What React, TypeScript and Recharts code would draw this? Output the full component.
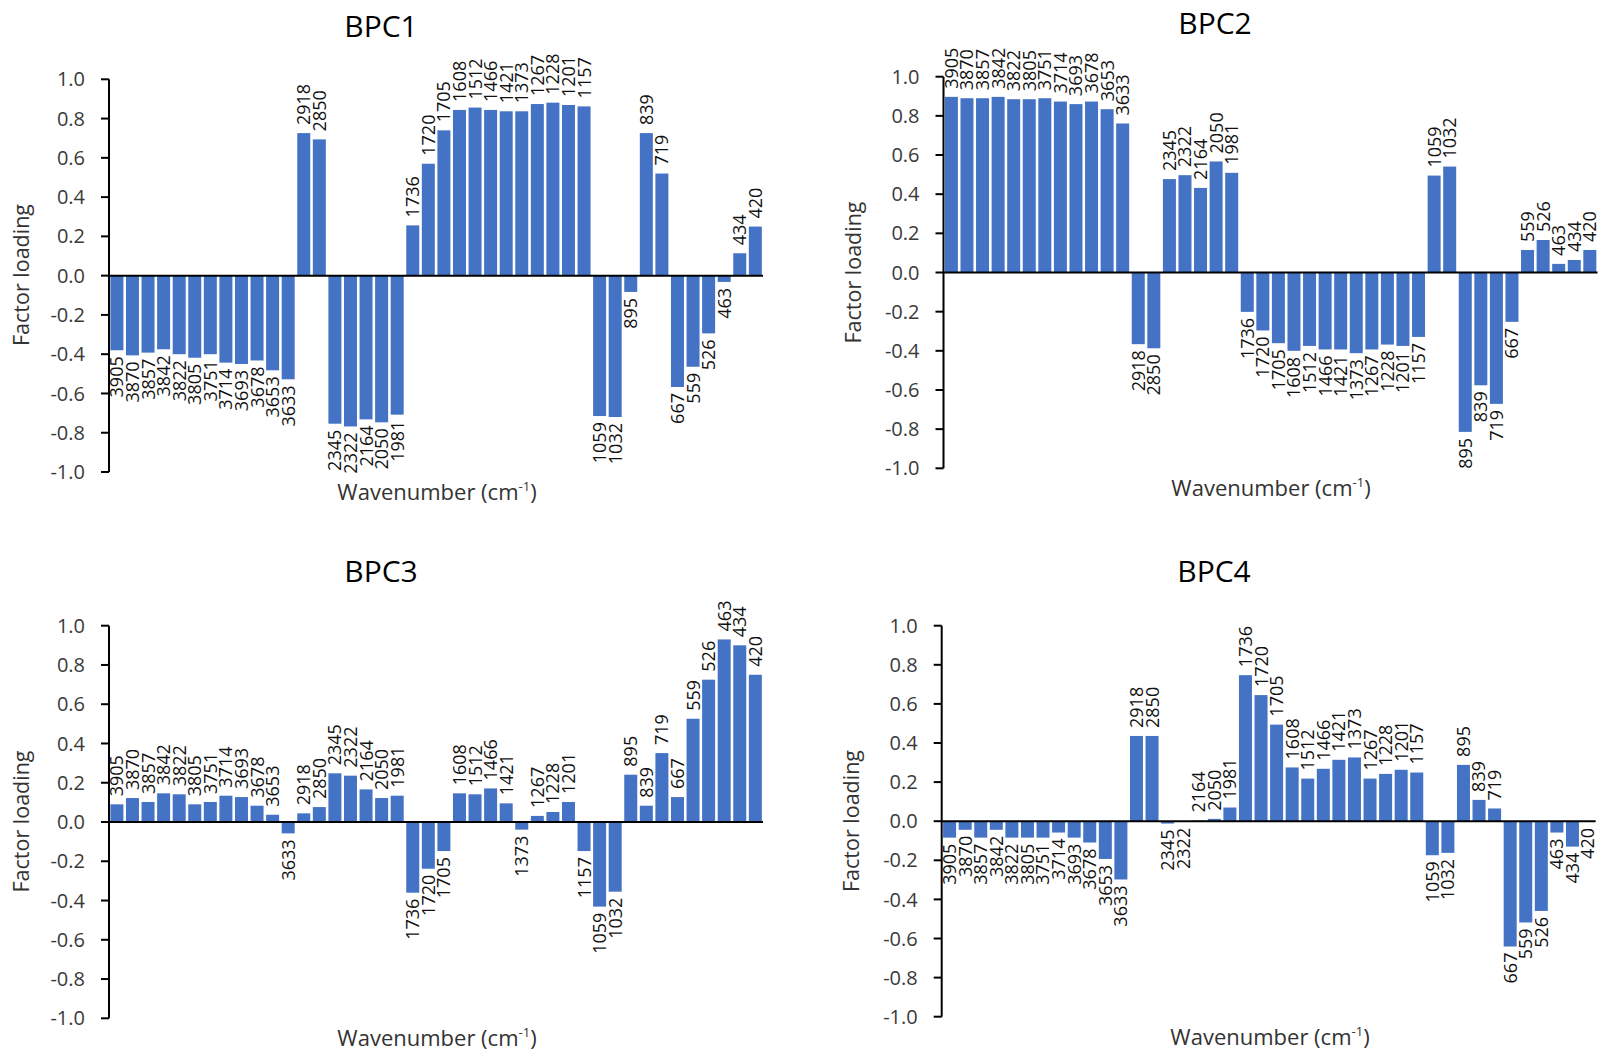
import React from 'react';
import { BarChart, Bar, XAxis, YAxis, ReferenceLine } from 'recharts';

// Wavenumber bands (cm-1), in plotting order
const WAVENUMBERS = [
  '3905', '3870', '3857', '3842', '3822', '3805', '3751', '3714', '3693', '3678', '3653', '3633',
  '2918', '2850',
  '2345', '2322', '2164', '2050', '1981',
  '1736', '1720', '1705',
  '1608', '1512', '1466', '1421', '1373', '1267', '1228', '1201', '1157',
  '1059', '1032',
  '895', '839', '719', '667',
  '559', '526', '463', '434', '420',
];

// Factor loadings per component
const BPC1 = [
  -0.38, -0.406, -0.392, -0.375, -0.4, -0.418, -0.4, -0.443, -0.45, -0.432, -0.482, -0.528,
  0.726, 0.694,
  -0.754, -0.768, -0.732, -0.747, -0.708,
  0.256, 0.57, 0.74,
  0.844, 0.856, 0.844, 0.837, 0.837, 0.874, 0.881, 0.869, 0.862,
  -0.715, -0.72,
  -0.083, 0.726, 0.52, -0.567,
  -0.464, -0.294, -0.032, 0.114, 0.25,
];

const BPC2 = [
  0.897, 0.89, 0.89, 0.897, 0.885, 0.885, 0.89, 0.873, 0.86, 0.873, 0.834, 0.761,
  -0.366, -0.387,
  0.477, 0.497, 0.432, 0.567, 0.509,
  -0.201, -0.296, -0.361,
  -0.4, -0.375, -0.393, -0.393, -0.412, -0.393, -0.368, -0.375, -0.329,
  0.495, 0.541,
  -0.814, -0.576, -0.671, -0.252,
  0.115, 0.166, 0.044, 0.064, 0.115,
];

const BPC3 = [
  0.09, 0.122, 0.102, 0.146, 0.141, 0.09, 0.102, 0.134, 0.127, 0.083, 0.037, -0.058,
  0.044, 0.076,
  0.248, 0.236, 0.166, 0.122, 0.134,
  -0.36, -0.238, -0.148,
  0.146, 0.141, 0.171, 0.095, -0.039, 0.031, 0.051, 0.102, -0.148,
  -0.431, -0.355,
  0.241, 0.083, 0.351, 0.127,
  0.526, 0.725, 0.93, 0.9, 0.75,
];

const BPC4 = [
  -0.084, -0.044, -0.084, -0.044, -0.084, -0.084, -0.084, -0.058, -0.084, -0.109, -0.193, -0.298,
  0.436, 0.436,
  -0.012, -0.003, 0.003, 0.012, 0.07,
  0.747, 0.645, 0.494,
  0.275, 0.218, 0.268, 0.314, 0.326, 0.218, 0.242, 0.263, 0.249,
  -0.174, -0.162,
  0.288, 0.109, 0.065, -0.641,
  -0.518, -0.459, -0.058, -0.13, -0.004,
];

const Y_TICKS = [-1, -0.8, -0.6, -0.4, -0.2, 0, 0.2, 0.4, 0.6, 0.8, 1];

const BAR_COLOR = '#4472C4';
const FONT = '"Open Sans", "Liberation Sans", sans-serif';
const TAG_SIZE = 18;

const makeRows = (values: number[]) => WAVENUMBERS.map((wn, i) => ({ wn, v: values[i] }));

// Bar rectangle with its wavenumber written vertically beyond the bar end
const BarWithTag = (props: any) => {
  const { x, y, width, height, payload } = props;
  if (x == null || y == null) return null;
  const top = Math.min(y, y + height);
  const h = Math.abs(height);
  const positive = payload.v >= 0;
  const tx = x + width / 2 + TAG_SIZE * 0.36;
  const ty = positive ? top - 8 : top + h + 6;
  return (
    <g>
      <rect x={x} y={top} width={width} height={h} fill={BAR_COLOR} />
      <text
        x={tx}
        y={ty}
        transform={`rotate(-90 ${tx} ${ty})`}
        textAnchor={positive ? 'start' : 'end'}
        fontSize={TAG_SIZE}
        fontFamily={FONT}
        fill="#111"
      >
        {payload.wn}
      </text>
    </g>
  );
};

type PanelProps = {
  values: number[];
  left: number;
  top: number;
  width: number;
  height: number;
  margin: { top: number; right: number; bottom: number; left: number };
  axisWidth: number;
};

const Panel = ({ values, left, top, width, height, margin, axisWidth }: PanelProps) => (
  <div style={{ position: 'absolute', left, top, width, height }}>
    <BarChart
      width={width}
      height={height}
      data={makeRows(values)}
      margin={margin}
      barCategoryGap="9%"
    >
      <XAxis dataKey="wn" hide />
      <YAxis
        domain={[-1, 1]}
        ticks={Y_TICKS}
        interval={0}
        width={axisWidth}
        tickSize={8}
        tickMargin={16}
        axisLine={{ stroke: '#000', strokeWidth: 2 }}
        tickLine={{ stroke: '#000', strokeWidth: 2 }}
        tick={{ fill: '#3a3a3a', fontSize: 20, fontFamily: FONT }}
        tickFormatter={(v: number) => v.toFixed(1)}
      />
      <Bar dataKey="v" shape={<BarWithTag />} isAnimationActive={false} />
      <ReferenceLine y={0} stroke="#000" strokeWidth={2} />
    </BarChart>
  </div>
);

const TITLES = [
  { text: 'BPC1', x: 381, y: 36.5 },
  { text: 'BPC2', x: 1215, y: 33.5 },
  { text: 'BPC3', x: 381, y: 582 },
  { text: 'BPC4', x: 1214, y: 582 },
];

const X_TITLES = [
  { x: 437, y: 500 },
  { x: 1271, y: 496 },
  { x: 437, y: 1046 },
  { x: 1270, y: 1045 },
];

const Y_TITLES = [
  { x: 29, y: 275 },
  { x: 861, y: 272.5 },
  { x: 29, y: 821.5 },
  { x: 859, y: 821 },
];

export default function App() {
  return (
    <div
      style={{
        position: 'absolute',
        left: 0,
        top: 0,
        width: 1598,
        height: 1053,
        background: '#fff',
        overflow: 'hidden',
      }}
    >
      <Panel
        values={BPC1}
        left={0}
        top={0}
        width={800}
        height={520}
        axisWidth={109}
        margin={{ top: 79.3, right: 37, bottom: 48, left: 0 }}
      />
      <Panel
        values={BPC2}
        left={830}
        top={0}
        width={768}
        height={520}
        axisWidth={110}
        margin={{ top: 76.7, right: 0.5, bottom: 51.7, left: 3.5 }}
      />
      <Panel
        values={BPC3}
        left={0}
        top={530}
        width={800}
        height={523}
        axisWidth={109}
        margin={{ top: 95.7, right: 37, bottom: 34.7, left: 0 }}
      />
      <Panel
        values={BPC4}
        left={830}
        top={530}
        width={768}
        height={523}
        axisWidth={110}
        margin={{ top: 95.7, right: 2.3, bottom: 36.3, left: 1.7 }}
      />
      <svg
        width={1598}
        height={1053}
        style={{ position: 'absolute', left: 0, top: 0, pointerEvents: 'none' }}
      >
        {TITLES.map((t) => (
          <text
            key={t.text}
            x={t.x}
            y={t.y}
            textAnchor="middle"
            fontSize={30}
            fontFamily={FONT}
            fill="#000"
          >
            {t.text}
          </text>
        ))}
        {X_TITLES.map((t, i) => (
          <text
            key={`xt${i}`}
            x={t.x}
            y={t.y}
            textAnchor="middle"
            fontSize={22}
            fontFamily={FONT}
            fill="#333"
          >
            Wavenumber (cm
            <tspan fontSize={13} dy={-9}>
              -1
            </tspan>
            <tspan dy={9}>)</tspan>
          </text>
        ))}
        {Y_TITLES.map((t, i) => (
          <text
            key={`yt${i}`}
            x={t.x}
            y={t.y}
            transform={`rotate(-90 ${t.x} ${t.y})`}
            textAnchor="middle"
            fontSize={21.5}
            fontFamily={FONT}
            fill="#333"
          >
            Factor loading
          </text>
        ))}
      </svg>
    </div>
  );
}
